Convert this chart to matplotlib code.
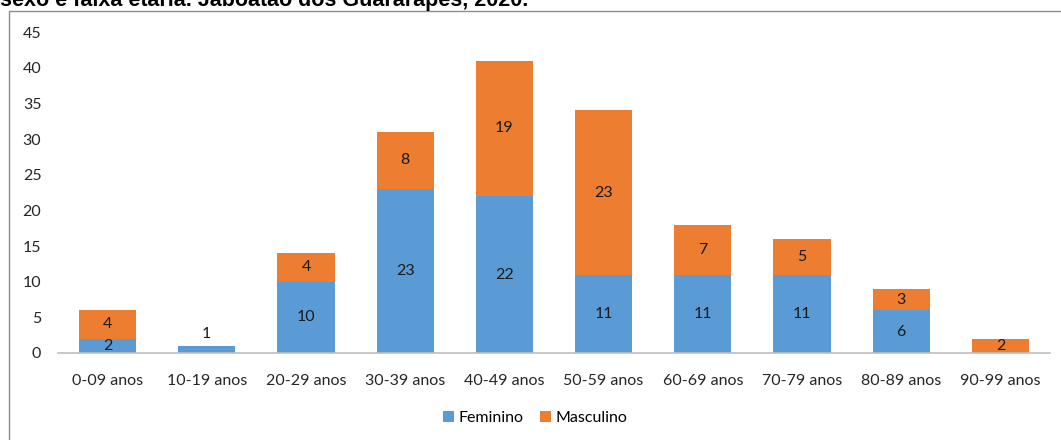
import matplotlib.pyplot as plt
from matplotlib.patches import Rectangle
import numpy as np

faixas = ['0-09 anos', '10-19 anos', '20-29 anos', '30-39 anos', '40-49 anos',
          '50-59 anos', '60-69 anos', '70-79 anos', '80-89 anos', '90-99 anos']
feminino = [2, 1, 10, 23, 22, 11, 11, 11, 6, 0]
masculino = [4, 0, 4, 8, 19, 23, 7, 5, 3, 2]
yticks = [0, 5, 10, 15, 20, 25, 30, 35, 40, 45]

azul = '#5B9BD5'
laranja = '#ED7D31'
fonte = 'Lato'

fig = plt.figure(figsize=(10.61, 4.4), dpi=100)
W, H = 1061, 440

# moldura do gráfico
fig.patches.append(Rectangle((9 / W, -0.1), 1.2, 1.1 - 11 / H,
                             transform=fig.transFigure, fill=False,
                             edgecolor='#8C8C8C', linewidth=1.0))

# título (cortado no topo da imagem, como no original)
fig.text(0.0, 1 - 6 / H, 'sexo e faixa etária. Jaboatão dos Guararapes, 2020.',
         fontsize=15.5, fontweight='bold', family='Liberation Sans',
         va='baseline', ha='left')

ax = fig.add_axes([58 / W, 1 - 353 / H, (1050 - 58) / W, (353 - 32) / H])
x = np.arange(len(faixas))
largura = 0.575
fem = np.array(feminino)
mas = np.array(masculino)

ax.bar(x, fem, largura, color=azul, label='Feminino', zorder=2)
ax.bar(x, mas, largura, bottom=fem, color=laranja, label='Masculino', zorder=2)

for i in range(len(faixas)):
    if fem[i] > 0:
        if fem[i] == 1:
            ax.text(x[i], fem[i] + 1.6, str(fem[i]), ha='center', va='center',
                    fontsize=11.5, family=fonte, color='#1a1a1a')
        else:
            ax.text(x[i], fem[i] / 2, str(fem[i]), ha='center', va='center',
                    fontsize=11.5, family=fonte, color='#1a1a1a')
    if mas[i] > 0:
        ax.text(x[i], fem[i] + mas[i] / 2, str(mas[i]), ha='center', va='center',
                fontsize=11.5, family=fonte, color='#1a1a1a')

ax.set_xlim(-0.5, len(faixas) - 0.5)
ax.set_ylim(0, 45)
ax.set_yticks(yticks)
ax.set_xticks(x)
ax.set_xticklabels(faixas)
for s in ['top', 'right', 'left']:
    ax.spines[s].set_visible(False)
ax.spines['bottom'].set_color('#BFBFBF')
ax.spines['bottom'].set_linewidth(1.2)
ax.tick_params(axis='both', length=0, labelsize=11.5, labelcolor='#262626')
ax.tick_params(axis='y', pad=12)
ax.tick_params(axis='x', pad=15)
for lab in ax.get_xticklabels() + ax.get_yticklabels():
    lab.set_family(fonte)

fig.legend(loc='center', bbox_to_anchor=(535 / W, 1 - 418 / H), ncol=2,
           frameon=False, handlelength=0.7, handleheight=0.7, handletextpad=0.3,
           columnspacing=1.0, prop={'family': fonte, 'size': 11.5})

fig.savefig('out.png', dpi=100)
